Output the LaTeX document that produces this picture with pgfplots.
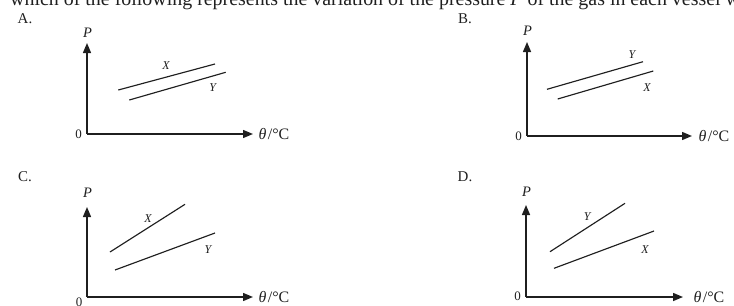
\documentclass[border=0pt]{standalone}
\usepackage{pgfplots}
\pgfplotsset{compat=1.18}
\usepackage{fontspec}
\setmainfont{Liberation Serif}
\usetikzlibrary{arrows.meta}
\definecolor{ink}{gray}{0.12}
\pgfplotsset{
  panel/.style={
    scale only axis, anchor=south west,
    axis lines=left, xmin=0, ymin=0,
    xtick=\empty, ytick=\empty,
    axis line style={ink, line width=1.4bp, -{Triangle[length=10bp,width=8bp]}},
    clip=false,
  },
  dline/.style={ink, line width=1.15bp, no marks},
}
\newcommand\Pfont{\fontsize{14.5}{16}\selectfont\itshape}
\newcommand\Zfont{\fontsize{13}{15}\selectfont}
\newcommand\Tfont{\fontsize{16}{18}\selectfont}
\newcommand\Sfont{\fontsize{12}{13}\selectfont\itshape}
\newcommand\Lfont{\fontsize{15}{17}\selectfont}
\newcommand\thetaC{\textit{θ}\kern1.5bp/°C}
\begin{document}
\begin{tikzpicture}[x=1bp,y=1bp]
\path[use as bounding box] (0,0) rectangle (734,305);
\clip (0,0) rectangle (734,305);
\node[anchor=base west, inner sep=0pt, font=\fontsize{20}{22}\selectfont, text=ink] at (10,299.5)
  {which of the following represents the variation of the pressure \textit{P} of the gas in each vessel with temperature?};
\node[font=\Lfont, text=ink] at (25,286) {A.};
\node[font=\Lfont, text=ink] at (465,286) {B.};
\node[font=\Lfont, text=ink] at (25,128) {C.};
\node[font=\Lfont, text=ink] at (465,128) {D.};

% Panel A
\begin{axis}[panel, at={(87bp,171bp)}, width=166bp, height=91bp, xmax=166, ymax=91]
\addplot[dline] coordinates {(31.3,44) (128,70)};
\addplot[dline] coordinates {(42.3,34) (138.7,61.7)};
\node[font=\Sfont, text=ink] at (axis cs:79,68.3) {X};
\node[font=\Sfont, text=ink] at (axis cs:125.7,46.3) {Y};
\node[font=\Pfont, text=ink] at (axis cs:0.5,101.5) {P};
\node[font=\Zfont, text=ink] at (axis cs:-8.5,0) {0};
\node[anchor=west, font=\Tfont, text=ink] at (axis cs:168,0) {\thetaC};
\end{axis}

% Panel B
\begin{axis}[panel, at={(527bp,169bp)}, width=165bp, height=94bp, xmax=165, ymax=94]
\addplot[dline] coordinates {(20,46.7) (116,74.3)};
\addplot[dline] coordinates {(30.7,37) (126.3,65)};
\node[font=\Sfont, text=ink] at (axis cs:105,81) {Y};
\node[font=\Sfont, text=ink] at (axis cs:120,48) {X};
\node[font=\Pfont, text=ink] at (axis cs:0.5,105) {P};
\node[font=\Zfont, text=ink] at (axis cs:-8.3,0) {0};
\node[anchor=west, font=\Tfont, text=ink] at (axis cs:168,0) {\thetaC};
\end{axis}

% Panel C
\begin{axis}[panel, at={(87bp,8bp)}, width=166bp, height=90bp, xmax=166, ymax=90]
\addplot[dline] coordinates {(23,45) (98,92.7)};
\addplot[dline] coordinates {(28,27) (128,64)};
\node[font=\Sfont, text=ink] at (axis cs:61,78) {X};
\node[font=\Sfont, text=ink] at (axis cs:121,47) {Y};
\node[font=\Pfont, text=ink] at (axis cs:0.5,104) {P};
\node[font=\Zfont, text=ink] at (axis cs:-8,-5) {0};
\node[anchor=west, font=\Tfont, text=ink] at (axis cs:168,0) {\thetaC};
\end{axis}

% Panel D
\begin{axis}[panel, at={(526bp,8bp)}, width=157bp, height=92bp, xmax=157, ymax=92]
\addplot[dline] coordinates {(24,45.3) (99,93.7)};
\addplot[dline] coordinates {(28,28.7) (128,66)};
\node[font=\Sfont, text=ink] at (axis cs:61.3,80.3) {Y};
\node[font=\Sfont, text=ink] at (axis cs:119,47) {X};
\node[font=\Pfont, text=ink] at (axis cs:0.5,105) {P};
\node[font=\Zfont, text=ink] at (axis cs:-8.5,1) {0};
\node[anchor=west, font=\Tfont, text=ink] at (axis cs:164,0) {\thetaC};
\end{axis}
\end{tikzpicture}
\end{document}
